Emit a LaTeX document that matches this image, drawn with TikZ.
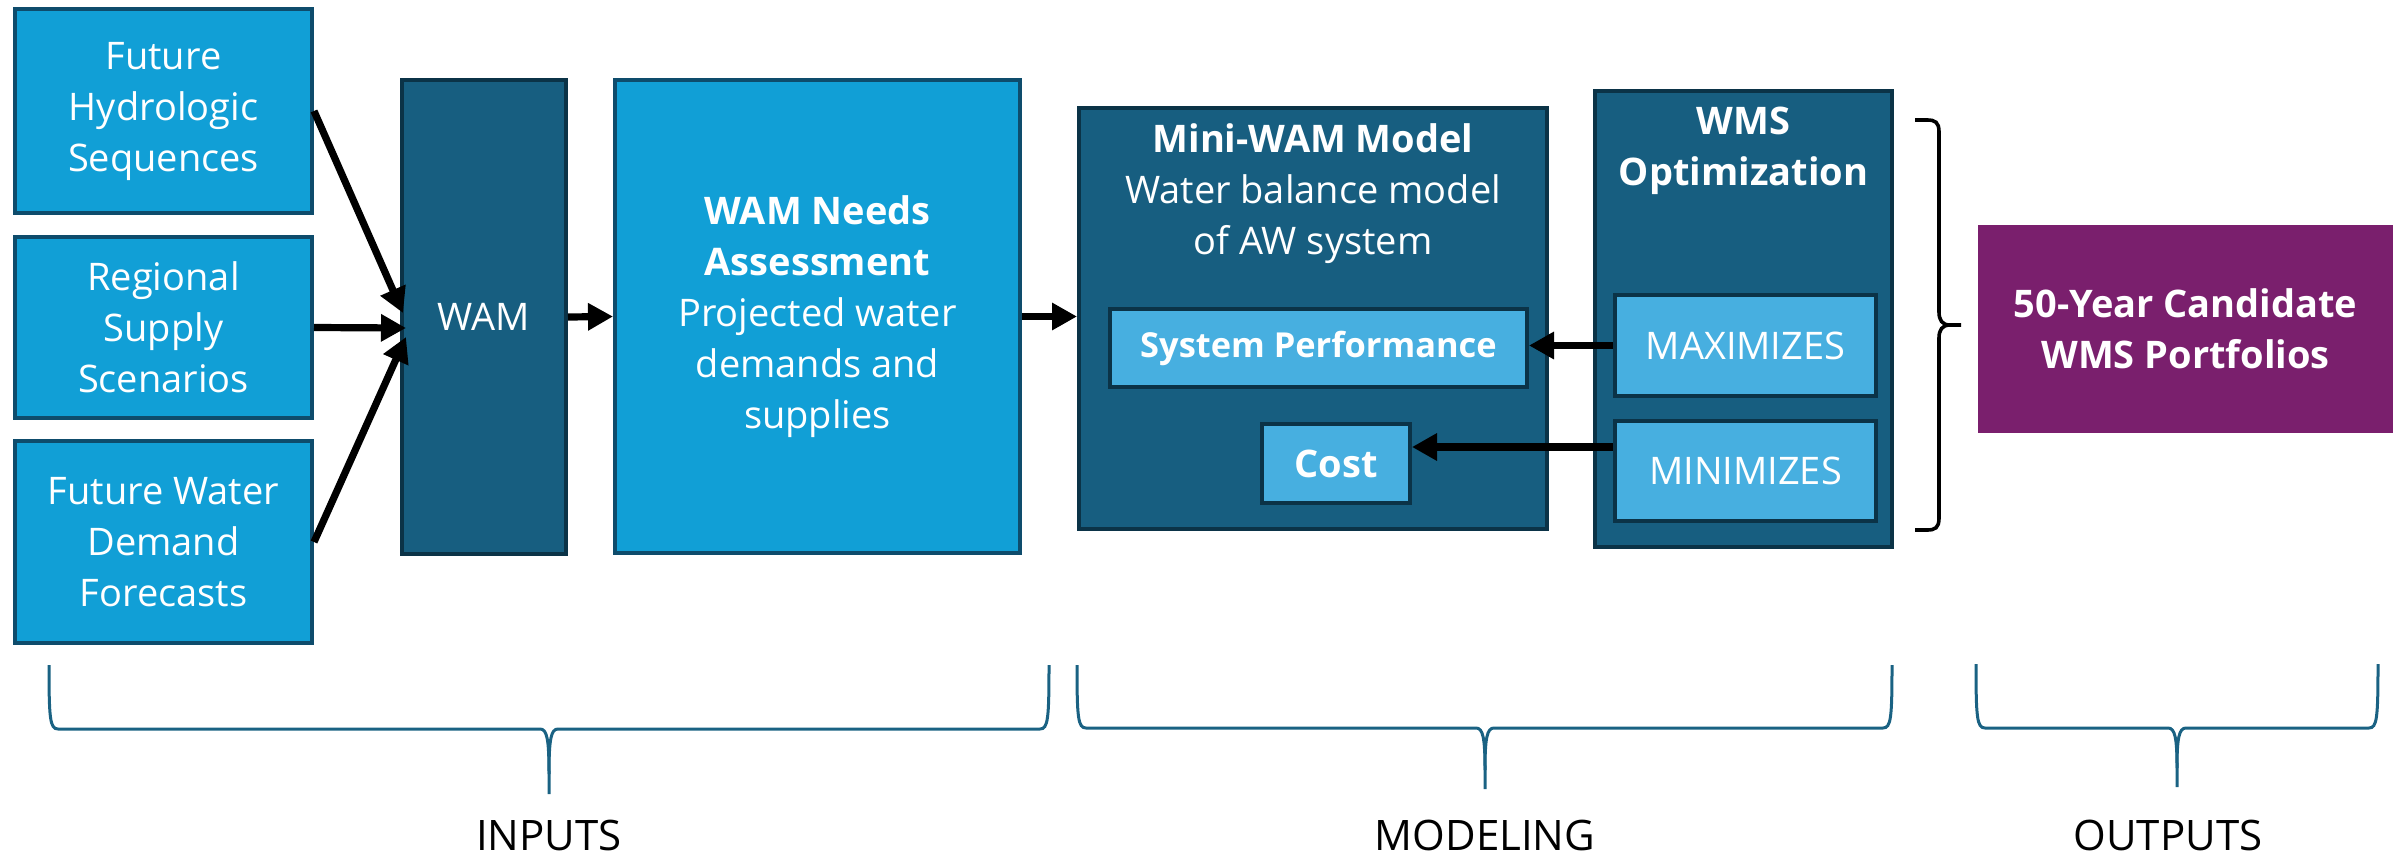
\documentclass[tikz,border=0pt]{standalone}
\usepackage{fontspec}
\setmainfont{Open Sans}
\usetikzlibrary{arrows.meta,calc}
\definecolor{lblue}{HTML}{119FD6}
\definecolor{lborder}{HTML}{0E4C6C}
\definecolor{dblue}{HTML}{175E80}
\definecolor{dborder}{HTML}{0B3347}
\definecolor{iblue}{HTML}{47AFE0}
\definecolor{purp}{HTML}{7A1F6D}
\definecolor{brc}{HTML}{1A6283}
\tikzset{
 txt/.style={text=white, align=center, font=\fontsize{19}{25.5}\selectfont},
 inbox/.style={draw=lborder, fill=lblue, line width=2pt, txt, inner sep=0pt},
 darkbox/.style={draw=dborder, fill=dblue, line width=2pt, txt, inner sep=0pt},
 innerbox/.style={draw=dborder, fill=iblue, line width=2pt, txt, inner sep=0pt},
 outbox/.style={fill=purp, txt, inner sep=0pt},
 arr/.style={line width=3.6pt, -{Triangle[length=12.5pt,width=13pt]}},
 bracepath/.style={draw=brc, line width=1.5pt},
 rbrace/.style={draw=black, line width=1.8pt},
 seclabel/.style={font=\fontsize{21}{25}\selectfont, text=black, inner sep=0pt, anchor=base},
}
\begin{document}
\begin{tikzpicture}[x=0.5pt,y=-0.5pt]
\useasboundingbox (0,0) rectangle (2405,857);

% inputs
\node[inbox, minimum width=148.5pt, minimum height=102pt] (in1) at (163.5,111) {Future\\Hydrologic\\Sequences};
\node[inbox, minimum width=148.5pt, minimum height=90.5pt] (in2) at (163.5,327.5) {Regional\\Supply\\Scenarios};
\node[inbox, minimum width=148.5pt, minimum height=101pt] (in3) at (163.5,542) {Future Water\\Demand\\Forecasts};

\node[darkbox, minimum width=82pt, minimum height=237pt] (wam) at (484,317) {WAM};
\node[inbox, minimum width=202.5pt, minimum height=236.5pt] (needs) at (817.5,316.5)
  {\textbf{WAM Needs}\\\textbf{Assessment}\\Projected water\\demands and\\supplies};

% modeling
\node[darkbox, minimum width=234pt, minimum height=210.5pt] (mini) at (1313,318.5) {};
\node[txt] (minitxt) at (1313,194) {\textbf{Mini-WAM Model}\\Water balance model\\of AW system};
\node[innerbox, minimum width=208.5pt, minimum height=39pt, font=\fontsize{17.2}{22}\selectfont] (sp) at (1318.5,348) {\textbf{System Performance}};
\node[innerbox, minimum width=74pt, minimum height=39.5pt] (cost) at (1336,463.5) {\textbf{Cost}};

\node[darkbox, minimum width=148.5pt, minimum height=228pt] (wms) at (1743.5,319) {};
\node[txt] (wmstxt) at (1743.5,151) {\textbf{WMS}\\\textbf{Optimization}};
\node[innerbox, minimum width=130.5pt, minimum height=50.5pt] (max) at (1745.5,345.5) {MAXIMIZES};
\node[innerbox, minimum width=130.5pt, minimum height=50pt] (min) at (1745.5,471) {MINIMIZES};

% output
\node[outbox, minimum width=207.5pt, minimum height=104pt] (out) at (2185.5,329) {\textbf{50-Year Candidate}\\\textbf{WMS Portfolios}};

% arrows
\draw[arr] (in1.east) -- ([xshift=1.5pt,yshift=2pt]wam.west);
\draw[arr] (in2.east) -- ([xshift=3pt,yshift=-5.5pt]wam.west);
\draw[arr] (in3.east) -- ([xshift=3pt,yshift=-10pt]wam.west);
\draw[arr] (wam.east) -- (needs.west);
\draw[arr] (needs.east) -- (needs.east -| mini.west);
\draw[arr] (max.west) -- (max.west -| sp.east);
\draw[arr] ([yshift=12pt]min.west) -- ([yshift=12pt]min.west -| cost.east);

% right brace
\draw[rbrace, line cap=butt] (1915,120) -- (1927,120) .. controls (1935,120) and (1939,122) .. (1939,132)
  -- (1939,312) .. controls (1939,320) and (1942,325) .. (1950,325) -- (1961,325);
\draw[rbrace, line cap=butt] (1950,325) .. controls (1942,325) and (1939,330) .. (1939,338)
  -- (1939,518) .. controls (1939,528) and (1935,530) .. (1927,530) -- (1915,530);

% bottom braces
\draw[bracepath] (49,665) .. controls (49,719) and (50,729) .. (58,729) -- (540,729)
  .. controls (547,729) and (549,739) .. (549,774) -- (549,794);
\draw[bracepath] (549,774) .. controls (549,739) and (551,729) .. (558,729) -- (1040,729)
  .. controls (1048,729) and (1049,719) .. (1049,665);
\node[seclabel] (lin) at (549,850) {INPUTS};

\draw[bracepath] (1077,665) .. controls (1077,718) and (1078,728) .. (1086,728) -- (1476,728)
  .. controls (1483,728) and (1485,738) .. (1485,770) -- (1485,789);
\draw[bracepath] (1485,770) .. controls (1485,738) and (1487,728) .. (1494,728) -- (1883,728)
  .. controls (1891,728) and (1892,718) .. (1892,665);
\node[seclabel] (lmod) at (1485,850) {MODELING};

\draw[bracepath] (1976,664) .. controls (1976,718) and (1977,728) .. (1985,728) -- (2168,728)
  .. controls (2175,728) and (2177,738) .. (2177,768) -- (2177,787);
\draw[bracepath] (2177,768) .. controls (2177,738) and (2179,728) .. (2186,728) -- (2369,728)
  .. controls (2377,728) and (2378,718) .. (2378,664);
\node[seclabel] (lout) at (2168,850) {OUTPUTS};
\end{tikzpicture}
\end{document}
